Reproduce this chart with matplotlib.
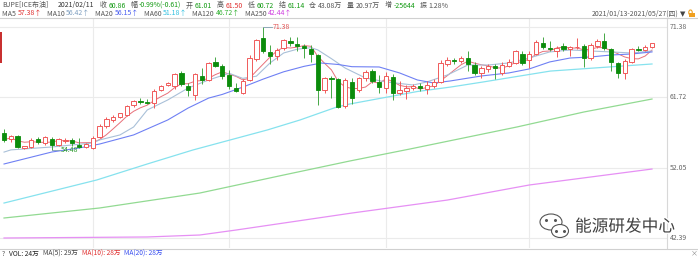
import matplotlib
matplotlib.use("Agg")
import matplotlib.pyplot as plt
import matplotlib.patheffects as pe
from matplotlib.patches import Rectangle, Ellipse
import numpy as np
import pandas as pd

plt.rcParams['font.family'] = ['Noto Sans CJK SC', 'DejaVu Sans']

# daily K-line, ICE Brent 2021/01/13 - 2021/05/27
opens = [56.8, 55.95, 56.4, 54.8, 54.9, 56.0, 55.4, 55.95, 55.2, 55.7,
         55.8, 55.2, 54.95, 54.8, 56.3, 57.8, 58.6, 59.05, 59.3, 60.65,
         61.2, 61.01, 60.9, 62.7, 63.4, 63.2, 65.0, 63.3, 61.98, 64.6,
         64.1, 66.5, 66.0, 64.8, 63.0, 62.3, 64.1, 66.9, 69.8, 67.96,
         67.3, 68.4, 69.46, 69.0, 68.7, 68.3, 67.5, 62.7, 64.3, 64.2,
         60.5, 63.85, 62.7, 64.3, 65.35, 63.85, 62.95, 64.45, 62.3, 62.6,
         62.95, 63.2, 62.8, 63.3, 63.85, 66.3, 66.75, 66.7, 67.05, 66.1,
         65.05, 65.55, 66.0, 65.05, 66.0, 66.45, 67.7, 66.75, 67.7, 69.2,
         68.45, 68.1, 68.7, 68.3, 68.55, 68.7, 67.05, 68.7, 69.46, 68.3,
         66.45, 65.05, 66.6, 68.35, 68.2, 68.55]
highs = [57.3, 56.55, 56.6, 55.1, 56.1, 56.3, 56.4, 56.2, 56.1, 56.1,
         56.1, 56.1, 55.5, 56.4, 58.0, 59.0, 59.3, 59.6, 60.6, 61.34,
         61.6, 61.50, 62.8, 63.4, 63.8, 65.0, 65.3, 63.7, 65.0, 65.7,
         66.5, 67.2, 66.3, 65.5, 63.6, 64.2, 67.5, 69.7, 71.38, 68.9,
         68.5, 69.7, 70.0, 70.0, 69.0, 68.9, 67.6, 64.5, 64.6, 64.4,
         64.3, 64.4, 64.5, 65.4, 65.6, 64.7, 65.2, 64.9, 64.0, 63.4,
         63.5, 63.6, 64.0, 64.2, 66.8, 67.2, 67.1, 67.4, 68.0, 66.6,
         66.0, 66.3, 66.3, 66.6, 67.0, 68.2, 68.0, 68.0, 69.5, 70.0,
         69.4, 68.7, 69.1, 68.8, 69.8, 69.0, 69.1, 69.7, 70.5, 68.4,
         66.6, 66.9, 68.5, 68.8, 68.9, 69.2]
lows = [55.6, 55.6, 54.7, 54.6, 54.8, 55.3, 55.2, 54.48, 55.0, 55.4,
        55.1, 54.7, 54.8, 54.6, 56.1, 57.5, 58.3, 58.9, 59.1, 60.4,
        60.8, 60.72, 60.2, 62.6, 63.3, 62.9, 63.3, 61.9, 61.3, 63.5,
        63.9, 65.8, 64.2, 62.8, 62.4, 62.1, 63.9, 66.7, 67.8, 66.2,
        66.8, 68.2, 68.8, 68.0, 67.1, 66.5, 60.7, 62.3, 61.6, 60.3,
        60.3, 60.8, 62.4, 64.0, 63.6, 62.3, 62.3, 61.3, 62.0, 61.5,
        62.7, 62.6, 62.2, 63.0, 63.6, 66.0, 66.3, 66.4, 65.3, 64.7,
        64.3, 65.2, 64.2, 64.7, 65.8, 66.2, 66.1, 65.7, 67.5, 68.3,
        68.1, 67.2, 68.0, 67.4, 68.3, 65.8, 66.8, 68.5, 68.2, 65.3,
        64.4, 64.2, 66.4, 68.0, 68.0, 68.4]
closes = [55.9, 56.4, 54.9, 55.0, 55.9, 55.6, 56.2, 55.2, 55.95, 55.85,
          55.4, 54.95, 55.3, 56.1, 57.8, 58.7, 59.05, 59.5, 60.5, 61.2,
          61.1, 60.86, 62.6, 63.2, 63.6, 64.85, 63.5, 62.7, 64.9, 64.1,
          66.4, 66.0, 64.6, 63.3, 62.6, 63.98, 67.1, 69.56, 68.05, 67.37,
          68.2, 69.56, 69.1, 68.7, 68.4, 67.7, 62.7, 64.3, 64.2, 60.4,
          64.1, 61.57, 64.3, 65.2, 63.98, 63.16, 64.6, 62.3, 62.7, 62.95,
          63.25, 62.95, 63.4, 63.85, 66.4, 66.8, 66.7, 67.05, 66.3, 65.05,
          65.7, 66.0, 65.7, 66.1, 66.6, 68.0, 66.4, 67.65, 69.3, 68.6,
          68.3, 68.45, 68.3, 68.6, 68.65, 67.05, 68.9, 69.46, 68.4, 66.6,
          65.0, 66.7, 68.3, 68.25, 68.55, 69.1]

# moving averages (candle index, price)
ma10_idx = [0, 1, 7, 13, 14, 17, 19, 21, 24, 27, 30, 33, 35, 37, 39, 41, 43, 45, 46,
            48, 50, 53, 56, 60, 62, 65, 68, 71, 74, 77, 80, 83, 86, 89, 92, 95]
ma10_val = [54.2, 54.5, 54.9, 55.45, 55.86, 56.55, 57.64, 59.97, 61.34, 62.98, 64.08,
            65.0, 64.3, 64.6, 66.41, 67.78, 68.3, 68.5, 68.2, 67.0, 65.72, 64.35,
            63.81, 63.39, 63.81, 64.76, 66.13, 66.13, 66.41, 67.09, 67.92, 68.19,
            68.05, 67.92, 67.78, 68.05]
ma20_idx = [0, 7, 11, 14, 19, 24, 27, 30, 32, 35, 38, 41, 44, 46.5, 49, 51, 55, 58,
            60.6, 63, 65.4, 70, 74, 77, 80, 83, 86, 89, 92, 95]
ma20_val = [52.57, 54.21, 54.76, 55.3, 56.55, 58.6, 60.24, 61.6, 62.1, 63.1, 64.2,
            65.2, 65.95, 66.4, 66.2, 65.9, 65.86, 65.04, 64.08, 63.67, 63.94, 64.63,
            65.04, 65.59, 66.55, 67.09, 67.23, 67.5, 67.64, 67.92]
ma60_idx = [0, 13.6, 21, 27.7, 38.6, 43.4, 48.8, 50.7, 60.6, 65.4, 70.2, 80.1, 95]
ma60_val = [47.22, 50.38, 52.57, 54.49, 57.23, 58.6, 60.38, 60.79, 62.5, 63.1, 63.8,
            65.3, 66.27]
ma120_idx = [0, 14, 28.7, 41, 50.7, 59.5, 75.2, 85, 95]
ma120_val = [45.17, 46.54, 48.59, 51.06, 52.98, 54.62, 57.64, 59.69, 61.47]
ma250_idx = [0, 21, 28.7, 34, 41, 51, 65, 77, 95]
ma250_val = [42.43, 42.57, 42.84, 43.52, 44.48, 45.85, 47.63, 49.69, 51.88]

axis_labels = [71.38, 61.72, 52.05, 42.39]
month_starts = [13, 33, 56, 77]

RED = '#f05a5a'
GREEN = '#0b8c0b'

W, H = 698, 259
fig = plt.figure(figsize=(6.98, 2.59), dpi=100)
ax = fig.add_axes([0, 11 / H, 667 / W, 230 / H])

o = np.array(opens); h = np.array(highs); l = np.array(lows); c = np.array(closes)
x = np.arange(len(c))

for v in axis_labels:
    ax.axhline(v, color='#ebebeb', lw=0.8, zorder=0)
for m in month_starts:
    ax.axvline(m, color='#ebebeb', lw=0.8, zorder=0)

ma5 = pd.Series(c).rolling(5, min_periods=1).mean()
ax.plot(x, ma5, color='#e8707a', lw=0.7, zorder=2)
ax.plot(ma10_idx, ma10_val, color='#a9c0d8', lw=0.8, zorder=2)
ax.plot(ma20_idx, ma20_val, color='#6f80f4', lw=0.8, zorder=2)
ax.plot(ma60_idx, ma60_val, color='#86e2ee', lw=0.9, zorder=2)
ax.plot(ma120_idx, ma120_val, color='#92da92', lw=0.9, zorder=2)
ax.plot(ma250_idx, ma250_val, color='#e690f4', lw=0.9, zorder=2)

bw = 0.64
for i in x:
    if c[i] >= o[i]:
        ax.add_patch(Rectangle((i - bw / 2, o[i]), bw, max(c[i] - o[i], 0.05),
                               facecolor='white', edgecolor=RED, lw=0.7, zorder=3))
        ax.vlines(i, c[i], h[i], color=RED, lw=0.7, zorder=3)
        ax.vlines(i, l[i], o[i], color=RED, lw=0.7, zorder=3)
    else:
        ax.vlines(i, l[i], h[i], color='#45a845', lw=0.7, zorder=3)
        ax.add_patch(Rectangle((i - bw / 2, c[i]), bw, max(o[i] - c[i], 0.05),
                               facecolor=GREEN, edgecolor=GREEN, lw=0.6, zorder=4))

# max / min marks
imax = int(np.argmax(h)); imin = int(np.argmin(l))
ax.plot([imax, imax + 1.3], [h[imax], h[imax]], color='#7f9fb0', lw=0.6, zorder=5)
ax.text(imax + 1.4, h[imax], f'{h[imax]:.2f}', color='#e05050', fontsize=5, va='center', zorder=5)
ax.plot([imin, imin + 1.2], [l[imin], l[imin]], color='#7f9fb0', lw=0.6, zorder=5)
ax.text(imin + 1.3, l[imin], f'{l[imin]:.2f}', color='#2a9a2a', fontsize=5, va='center', zorder=5)

ax.set_xlim(-0.59, 97.2)
ax.set_ylim(41.06, 72.57)
ax.set_xticks([]); ax.set_yticks([])
for s in ['left', 'top', 'bottom']:
    ax.spines[s].set_visible(False)
ax.spines['right'].set_color('#d8d8d8')
ax.spines['right'].set_linewidth(0.8)
for v in axis_labels:
    ax.text(1.004, v, f'{v:.2f}', transform=ax.get_yaxis_transform(), fontsize=5,
            color='#666666', va='center', ha='left')

# overlay in pixel coordinates for header / footer decorations
ov = fig.add_axes([0, 0, 1, 1], zorder=10)
ov.set_xlim(0, W); ov.set_ylim(H, 0); ov.axis('off'); ov.patch.set_alpha(0)
ov.plot([0, W], [18, 18], color='#d0d0d0', lw=0.8)
ov.plot([0, W], [248.5, 248.5], color='#d0d0d0', lw=0.8)
ov.add_patch(Rectangle((0, 32), 1.5, 31, color='#c83030', lw=0))

renderer = fig.canvas.get_renderer()


def row(items, x0, y0, size=5):
    xx = x0
    for s, col, gap in items:
        t = ov.text(xx, y0, s, color=col, fontsize=size, va='center', ha='left')
        xx += t.get_window_extent(renderer).width + gap


G = '#555555'
row([('BJPE[ICE布油]', G, 9), ('2021/02/11', '#333333', 6),
     ('收 ', G, 0), ('60.86', '#129a12', 5), ('幅 ', G, 0), ('-0.99%(-0.61)', '#129a12', 5),
     ('开 ', G, 0), ('61.01', '#129a12', 5), ('高 ', G, 0), ('61.50', '#e03030', 5),
     ('低 ', G, 0), ('60.72', '#129a12', 5), ('结 ', G, 0), ('61.14', '#129a12', 5),
     ('仓 ', G, 0), ('43.08万', G, 5), ('量 ', G, 0), ('20.97万', G, 5),
     ('增 ', G, 0), ('-25644', '#129a12', 5), ('振 ', G, 0), ('1.28%', G, 0)], 2, 5.5)
row([('MA5 ', G, 0), ('57.38↑', '#e03030', 5), ('MA10 ', G, 0), ('56.42↑', '#7f9fc0', 5),
     ('MA20 ', G, 0), ('56.15↑', '#4a5ef0', 5), ('MA60 ', G, 0), ('51.18↑', '#30c0e0', 5),
     ('MA120 ', G, 0), ('46.72↑', '#30b030', 5), ('MA250 ', G, 0), ('42.44↑', '#d040e0', 0)],
    2, 13.5)
ov.text(678, 14, '2021/01/13-2021/05/27(四)', fontsize=5, color=G, va='center', ha='right')
ov.text(680, 14, '▼', fontsize=5, color='#444444', va='center', ha='left',
        family=['DejaVu Sans'])
ov.add_patch(Rectangle((689, 12.5), 6, 4.5, color='#f0a020', lw=0))
ov.add_patch(Ellipse((690.5, 12.5), 3.5, 5, fill=False, edgecolor='#f0a020', lw=0.8))

row([('?', G, 4), ('VOL: 24万', '#222222', 4), ('MA(5): 29万', '#444444', 4),
     ('MA(10): 28万', '#e03030', 4), ('MA(20): 28万', '#3a50f0', 0)], 2, 254, size=4.8)
ov.text(694, 253, '×', fontsize=5, color='#888888', va='center', ha='center')

# watermark
ov.add_patch(Ellipse((551, 222), 22, 16, facecolor='white', edgecolor='#555555', lw=0.8))
ov.add_patch(Ellipse((560, 231), 17, 13, facecolor='white', edgecolor='#555555', lw=0.8))
for ex, ey in [(546, 220), (555, 220), (556, 231), (564, 231)]:
    ov.plot(ex, ey, 'o', color='#555555', ms=1.2)
ov.text(575, 227, '能源研发中心', fontsize=12, color='#404040', va='center', ha='left',
        path_effects=[pe.withStroke(linewidth=2, foreground='white')])

fig.savefig('out.png', dpi=100)
